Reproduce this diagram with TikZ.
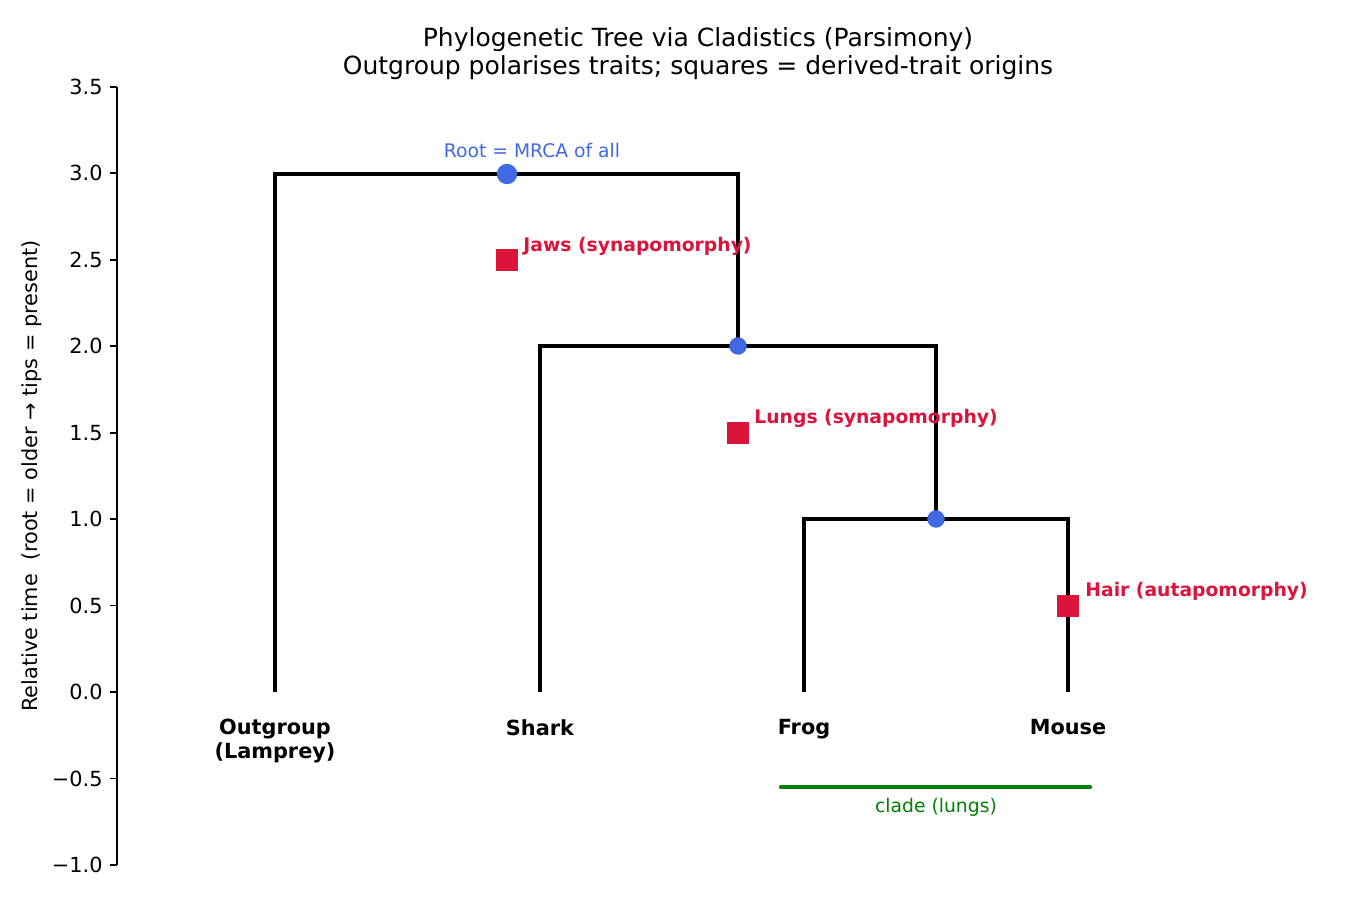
\documentclass[tikz,border=0pt]{standalone}
\usepackage{fontspec}
\setmainfont{DejaVu Sans}
\usetikzlibrary{positioning}

\definecolor{royalblue}{RGB}{65,105,225}
\definecolor{crimson}{RGB}{220,20,60}
\definecolor{cladegreen}{RGB}{0,128,0}

\tikzset{
  branch/.style={line width=1.5pt, line join=miter},
  knot/.style={circle, fill=royalblue, inner sep=0pt, minimum size=8.4pt},
  rootknot/.style={knot, minimum size=9.8pt},
  trait/.style={rectangle, fill=crimson, inner sep=0pt, minimum size=10.5pt},
  traitlabel/.style={text=crimson, anchor=west, inner sep=0pt, font=\bfseries\fontsize{9}{11}\selectfont},
  tiplabel/.style={anchor=north, align=center, inner sep=0pt, font=\bfseries\fontsize{10}{11.2}\selectfont},
  spine/.style={line width=0.8pt},
  ticklabel/.style={anchor=east, inner sep=0pt, font=\fontsize{10}{12}\selectfont}
}

\begin{document}
\begin{tikzpicture}[x=0.48pt, y=-0.48pt]
\useasboundingbox (0,0) rectangle (1350,900);

% title and axis
\node[align=center, font=\fontsize{12}{13.4}\selectfont] (title) at (698,54) {Phylogenetic Tree via Cladistics (Parsimony)\\Outgroup polarises traits; squares = derived-trait origins};
\draw[spine] (117,87) -- (117,865);
\foreach \v/\t in {3.5/3.5, 3.0/3.0, 2.5/2.5, 2.0/2.0, 1.5/1.5, 1.0/1.0, 0.5/0.5, 0.0/0.0, -0.5/−0.5, -1.0/−1.0} {
  \draw[spine] (110,692-172.89*\v) -- (117,692-172.89*\v);
  \node[ticklabel] at (103,692-172.89*\v) {\t};
}
\node[rotate=90, font=\fontsize{10}{12}\selectfont] (ylabel) at (32,476) {Relative time\ \ (root = older → tips = present)};

% tips and internal nodes
\coordinate (tipO) at (275,692);
\coordinate (tipS) at (540,692);
\coordinate (tipF) at (804,692);
\coordinate (tipM) at (1068,692);
\coordinate (n3) at (507,174);
\coordinate (n2) at (738,346);
\coordinate (n1) at (936,519);

% branches
\draw[branch] (tipO) |- (n3) -| (n2);
\draw[branch] (tipS) |- (n2) -| (n1);
\draw[branch] (tipF) |- (n1) -| (tipM);

% node dots
\node[rootknot] (root) at (n3) {};
\node[knot] (knot2) at (n2) {};
\node[knot] (knot1) at (n1) {};
\node[text=royalblue, font=\fontsize{9}{11}\selectfont] (rootlabel) at (532,151) {Root = MRCA of all};

% derived traits
\node[trait] (jaws) at (507,260) {};
\node[traitlabel] (jawslabel) at (523,246) {Jaws (synapomorphy)};
\node[trait] (lungs) at (738,433) {};
\node[traitlabel] (lungslabel) at (754,418) {Lungs (synapomorphy)};
\node[trait] (hair) at (1068,606) {};
\node[traitlabel] (hairlabel) at (1085,591) {Hair (autapomorphy)};

% tip labels
\node[tiplabel] (outgroup) at (275,719) {Outgroup\\(Lamprey)};
\node[tiplabel] (shark) at (540,719) {Shark};
\node[tiplabel] (frog) at (804,719) {Frog};
\node[tiplabel] (mouse) at (1068,719) {Mouse};

% clade bar
\coordinate (cladeL) at (781,787);
\coordinate (cladeR) at (1090,787);
\draw[cladegreen, line width=2pt, line cap=round] (cladeL) -- (cladeR);
\node[text=cladegreen, font=\fontsize{9}{11}\selectfont] (cladelabel) at (936,807) {clade (lungs)};
\end{tikzpicture}
\end{document}
